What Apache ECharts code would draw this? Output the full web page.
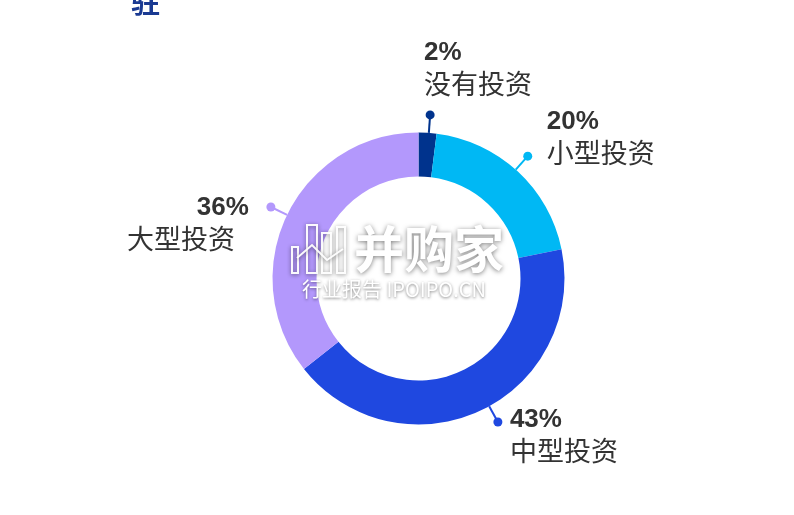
<!DOCTYPE html>
<html>
<head>
<meta charset="utf-8">
<script src="https://cdn.jsdelivr.net/npm/echarts@6/dist/echarts.min.js"></script>
<style>
html,body{margin:0;padding:0;background:#fff;}
#main{width:794px;height:515px;}
</style>
</head>
<body>
<div id="main"></div>
<script>
const categories = ['没有投资', '小型投资', '中型投资', '大型投资'];
const values = [2, 20, 43, 36];
const percentLabels = ['2%', '20%', '43%', '36%'];
const colors = ['#00338d', '#00b8f4', '#1f48e0', '#b398fc'];

// label placement relative to each leader-line dot (leader angle offset in degrees)
const labelPlace = [
  { ang: 0.5, dx1: -6, dy1: -62, a1: 'left', dx2: -6, dy2: -31, a2: 'left' },
  { ang: -1, dx1: 19, dy1: -34, a1: 'left', dx2: 19, dy2: -3, a2: 'left' },
  { ang: -4, dx1: 12, dy1: -2, a1: 'left', dx2: 12, dy2: 29, a2: 'left' },
  { ang: 0, dx1: -22, dy1: 1, a1: 'right', dx2: -36, dy2: 32, a2: 'right' }
];

const chart = echarts.init(document.getElementById('main'), null, { renderer: 'canvas' });

const option = {
  animation: false,
  backgroundColor: '#ffffff',
  series: [{
    type: 'pie',
    center: [418.5, 278.5],
    radius: [102, 146],
    startAngle: 90,
    clockwise: true,
    silent: true,
    label: { show: false },
    labelLine: { show: false },
    itemStyle: { borderWidth: 0 },
    data: categories.map((c, i) => ({ name: c, value: values[i], itemStyle: { color: colors[i] } }))
  }]
};
chart.setOption(option);

const pctFont = 'bold 26px "Liberation Sans", Arial, sans-serif';
const cjkFont = '27px "Noto Sans CJK SC", sans-serif';
const textColor = '#333333';

const data = chart.getModel().getSeriesByIndex(0).getData();
const elements = [];
for (let i = 0; i < categories.length; i++) {
  const l = data.getItemLayout(i);
  const p = labelPlace[i];
  const mid = (l.startAngle + l.endAngle) / 2 + p.ang * Math.PI / 180;
  const cx = l.cx, cy = l.cy, r = l.r;
  const x0 = cx + r * Math.cos(mid), y0 = cy + r * Math.sin(mid);
  const x1 = cx + (r + 18) * Math.cos(mid), y1 = cy + (r + 18) * Math.sin(mid);
  elements.push({
    type: 'line', silent: true, z: 10,
    shape: { x1: x0, y1: y0, x2: x1, y2: y1 },
    style: { stroke: colors[i], lineWidth: 2 }
  });
  elements.push({
    type: 'circle', silent: true, z: 10,
    shape: { cx: x1, cy: y1, r: 4.5 },
    style: { fill: colors[i] }
  });
  elements.push({
    type: 'text', silent: true, z: 10,
    style: { text: percentLabels[i], x: x1 + p.dx1, y: y1 + p.dy1, align: p.a1, verticalAlign: 'middle', font: pctFont, fill: textColor }
  });
  elements.push({
    type: 'text', silent: true, z: 10,
    style: { text: categories[i], x: x1 + p.dx2, y: y1 + p.dy2, align: p.a2, verticalAlign: 'middle', font: cjkFont, fill: textColor }
  });
}

// cut-off title fragment at top
elements.push({
  type: 'text', silent: true, z: 10,
  style: { text: '驻', x: 131, y: 16, align: 'left', verticalAlign: 'bottom', font: 'bold 29px "Noto Sans CJK SC", sans-serif', fill: '#1a3a92' }
});

// watermark
const wmShadow = { shadowColor: 'rgba(0,0,0,0.5)', shadowBlur: 4, shadowOffsetX: 0, shadowOffsetY: 1 };
const bars = [[292, 247, 6, 26], [307, 225, 10, 48], [322, 233, 9, 40], [337, 227, 8, 46]];
bars.forEach(b => {
  elements.push({
    type: 'rect', silent: true, z: 20,
    shape: { x: b[0], y: b[1], width: b[2], height: b[3] },
    style: Object.assign({ fill: 'none', stroke: 'rgba(255,255,255,0.95)', lineWidth: 2 }, wmShadow)
  });
});
elements.push({
  type: 'polyline', silent: true, z: 20,
  shape: { points: [[297, 258], [312, 245], [327, 260], [343, 249]] },
  style: Object.assign({ fill: 'none', stroke: 'rgba(255,255,255,0.95)', lineWidth: 2 }, wmShadow)
});
elements.push({
  type: 'text', silent: true, z: 20,
  style: { text: '并购家', x: 354, y: 249, align: 'left', verticalAlign: 'middle', font: 'bold 50px "Noto Sans CJK SC", sans-serif', fill: '#ffffff', textShadowColor: 'rgba(0,0,0,0.5)', textShadowBlur: 5, textShadowOffsetY: 1 }
});
elements.push({
  type: 'text', silent: true, z: 20,
  style: { text: '行业报告 IPOIPO.CN', x: 302, y: 289, align: 'left', verticalAlign: 'middle', font: '20px "Noto Sans CJK SC", sans-serif', fill: '#ffffff', textShadowColor: 'rgba(0,0,0,0.5)', textShadowBlur: 3, textShadowOffsetY: 1 }
});

chart.setOption({ graphic: { elements: elements } });
</script>
</body>
</html>
